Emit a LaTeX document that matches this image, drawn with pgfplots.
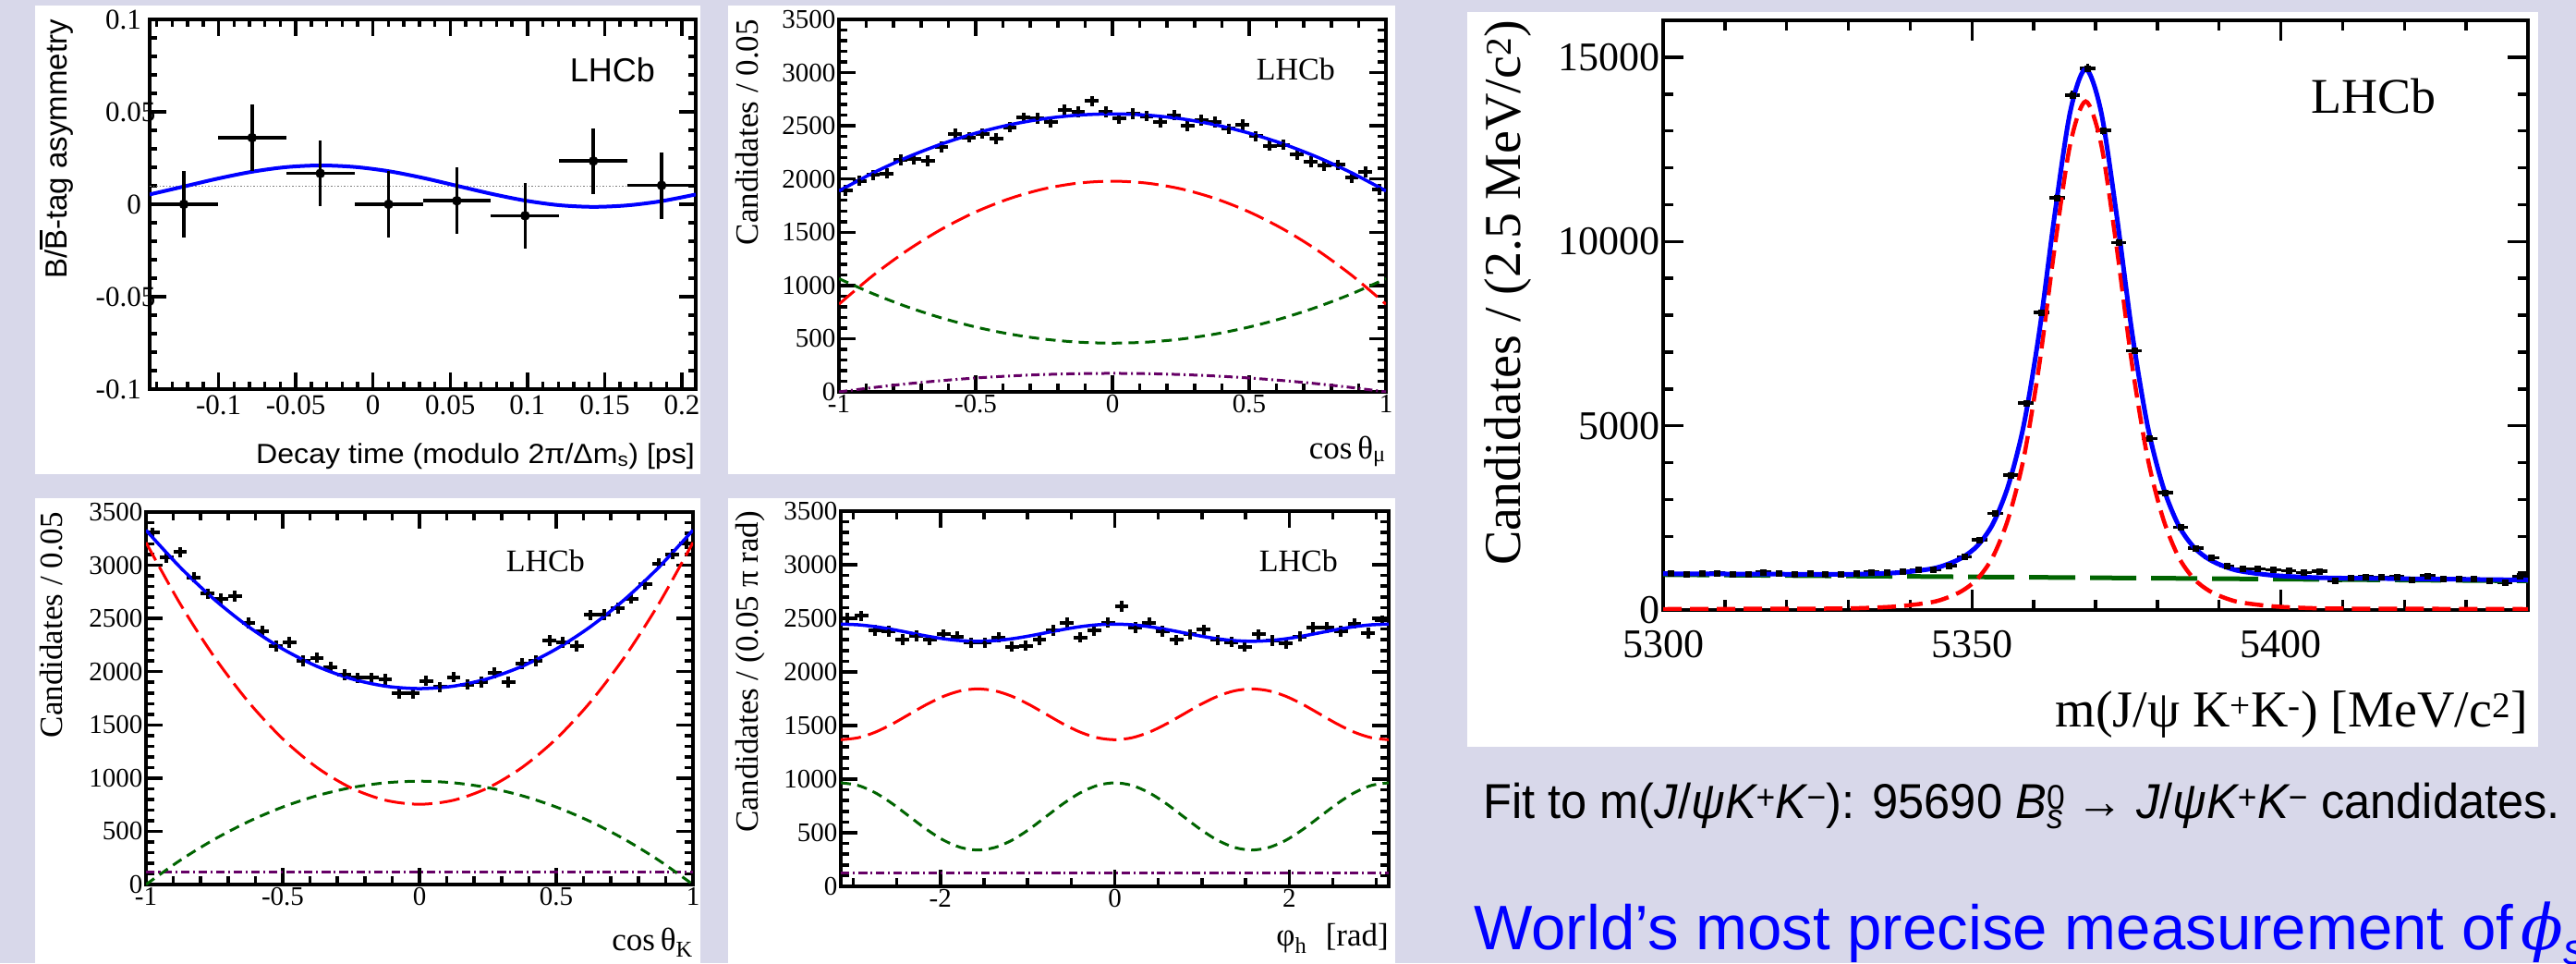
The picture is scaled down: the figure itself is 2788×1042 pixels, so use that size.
\documentclass[border=0pt]{standalone}
\usepackage{fontspec}
\setmainfont{Liberation Serif}
\newfontfamily\sans{Liberation Sans}
\newfontfamily\dvs{DejaVu Serif}
\newcommand{\mi}[1]{{\itshape #1}}
\usepackage{pgfplots}
\usepackage{pgfplotstable}
\pgfplotsset{compat=1.18}
\definecolor{bg}{RGB}{216,216,234}
\definecolor{rblue}{RGB}{0,0,255}
\definecolor{rred}{RGB}{255,0,0}
\definecolor{rgreen}{RGB}{0,100,0}
\definecolor{rpurple}{RGB}{102,0,102}

\pgfplotsset{rootstyle/.style={scale only axis, anchor=south west,
  axis line style={line width=3.5pt}, tick style={line width=3.5pt, black},
  tick align=inside, tick pos=both, clip=true, scaled ticks=false,
  enlargelimits=false, major tick length=18pt, minor tick length=9pt,
  tick label style={font=\fontsize{29}{29}\selectfont}}}
\tikzset{lblue/.style={rblue, line width=3.5pt, smooth, no markers},
  lred/.style={rred, line width=3pt, smooth, no markers, dash pattern=on 22pt off 8pt},
  lgreen/.style={rgreen, line width=3pt, smooth, no markers, dash pattern=on 11pt off 7pt},
  lpurple/.style={rpurple, line width=3pt, smooth, no markers, dash pattern=on 9pt off 4pt on 2pt off 4pt}}

% ---------- plot 1: asymmetry
\pgfplotstableread{
x y ex ey
-0.1225 0.0000 0.0221 0.0180
-0.0783 0.0360 0.0221 0.0178
-0.0341 0.0167 0.0221 0.0176
0.0101 0.0000 0.0221 0.0180
0.0543 0.0019 0.0221 0.0180
0.0985 -0.0062 0.0221 0.0177
0.1427 0.0234 0.0221 0.0177
0.1869 0.0102 0.0221 0.0180
}\dataA
\pgfplotstableread{
x y
-0.1446 0.0053
-0.1225 0.0096
-0.1004 0.0139
-0.0783 0.0176
-0.0562 0.0201
-0.0341 0.0210
-0.0120 0.0202
0.0101 0.0179
0.0322 0.0143
0.0543 0.0100
0.0764 0.0057
0.0985 0.0020
0.1206 -0.0005
0.1427 -0.0014
0.1648 -0.0006
0.1869 0.0017
0.2090 0.0053
}\curveA
% ---------- plot 2: cos theta_mu
\pgfplotstableread{
x y
-0.975 1893
-0.925 1983
-0.875 2037
-0.825 2052
-0.775 2178
-0.725 2187
-0.675 2172
-0.625 2301
-0.575 2421
-0.525 2391
-0.475 2427
-0.425 2379
-0.375 2487
-0.325 2577
-0.275 2571
-0.225 2532
-0.175 2651
-0.125 2630
-0.075 2732
-0.025 2630
0.025 2571
0.075 2612
0.125 2592
0.175 2532
0.225 2601
0.275 2502
0.325 2553
0.375 2538
0.425 2472
0.475 2511
0.525 2403
0.575 2313
0.625 2322
0.675 2232
0.725 2163
0.775 2127
0.825 2133
0.875 2013
0.925 2067
0.975 1902
}\dataB
\pgfplotstableread{
x blue red green purple
-1 1888 824 1064 0
-0.875 2057.7 1095 922 40.8
-0.75 2204.8 1329.8 798.9 76.1
-0.625 2329.2 1528.4 694.7 106
-0.5 2431 1691 609.5 130.5
-0.375 2510.2 1817.4 543.2 149.5
-0.25 2566.8 1908 495.9 163.1
-0.125 2600.7 1962 467.5 171.3
0 2612 1980 458 174
0.125 2600.7 1962 467.5 171.3
0.25 2566.8 1908 495.9 163.1
0.375 2510.2 1817.4 543.2 149.5
0.5 2431 1691 609.5 130.5
0.625 2329.2 1528.4 694.7 106
0.75 2204.8 1329.8 798.9 76.1
0.875 2057.7 1095 922 40.8
1 1888 824 1064 0
}\curveB
% ---------- plot 3: cos theta_K
\pgfplotstableread{
x y
-0.975 3306
-0.925 3074
-0.875 3123
-0.825 2886
-0.775 2732
-0.725 2683
-0.675 2712
-0.625 2459
-0.575 2378
-0.525 2239
-0.475 2277
-0.425 2103
-0.375 2132
-0.325 2045
-0.275 1972
-0.225 1943
-0.175 1943
-0.125 1929
-0.075 1798
-0.025 1798
0.025 1914
0.075 1856
0.125 1949
0.175 1879
0.225 1900
0.275 1987
0.325 1900
0.375 2074
0.425 2103
0.475 2291
0.525 2277
0.575 2242
0.625 2532
0.675 2538
0.725 2596
0.775 2688
0.825 2819
0.875 3016
0.925 3103
0.975 3205
}\dataC
\pgfplotstableread{
x blue red green purple
-1 3330 3214 0 116
-0.875 2981 2637.4 227.6 116
-0.75 2678.6 2137.8 424.8 116
-0.625 2422.6 1714.9 591.7 116
-0.5 2213.3 1369 728.3 116
-0.375 2050.4 1099.9 834.5 116
-0.25 1934.1 907.8 910.3 116
-0.125 1864.3 792.4 955.8 116
0 1841 754 971 116
0.125 1864.3 792.4 955.8 116
0.25 1934.1 907.8 910.3 116
0.375 2050.4 1099.9 834.5 116
0.5 2213.3 1369 728.3 116
0.625 2422.6 1714.9 591.7 116
0.75 2678.6 2137.8 424.8 116
0.875 2981 2637.4 227.6 116
1 3330 3214 0 116
}\curveC
% ---------- plot 4: phi_h
\pgfplotstableread{
x y
-3.0631 2503
-2.9060 2523
-2.7489 2388
-2.5918 2380
-2.4347 2302
-2.2777 2337
-2.1206 2299
-1.9635 2351
-1.8064 2331
-1.6493 2273
-1.4923 2273
-1.3352 2322
-1.1781 2236
-1.0210 2245
-0.8639 2302
-0.7069 2388
-0.5498 2460
-0.3927 2322
-0.2356 2388
-0.0785 2460
0.0785 2610
0.2356 2414
0.3927 2460
0.5498 2380
0.7069 2299
0.8639 2351
1.0210 2394
1.1781 2299
1.3352 2279
1.4923 2236
1.6493 2351
1.8064 2293
1.9635 2265
2.1206 2331
2.2777 2414
2.4347 2414
2.5918 2380
2.7489 2452
2.9060 2360
3.0631 2480
}\dataD
\pgfplotstableread{
x blue red green purple
-3.1416 2446 1368 966 124
-2.9452 2439.9 1386.0 942.1 124
-2.7489 2422.6 1437.4 874.2 124
-2.5525 2396.6 1514.3 772.5 124
-2.3562 2366 1605 652.5 124
-2.1598 2335.4 1695.7 532.5 124
-1.9635 2309.4 1772.6 430.8 124
-1.7671 2292.1 1824.0 362.9 124
-1.5708 2286 1842 339 124
-1.3744 2292.1 1824.0 362.9 124
-1.1781 2309.4 1772.6 430.8 124
-0.9817 2335.4 1695.7 532.5 124
-0.7854 2366 1605 652.5 124
-0.5890 2396.6 1514.3 772.5 124
-0.3927 2422.6 1437.4 874.2 124
-0.1963 2439.9 1386.0 942.1 124
0 2446 1368 966 124
0.1963 2439.9 1386.0 942.1 124
0.3927 2422.6 1437.4 874.2 124
0.5890 2396.6 1514.3 772.5 124
0.7854 2366 1605 652.5 124
0.9817 2335.4 1695.7 532.5 124
1.1781 2309.4 1772.6 430.8 124
1.3744 2292.1 1824.0 362.9 124
1.5708 2286 1842 339 124
1.7671 2292.1 1824.0 362.9 124
1.9635 2309.4 1772.6 430.8 124
2.1598 2335.4 1695.7 532.5 124
2.3562 2366 1605 652.5 124
2.5525 2396.6 1514.3 772.5 124
2.7489 2422.6 1437.4 874.2 124
2.9452 2439.9 1386.0 942.1 124
3.1416 2446 1368 966 124
}\curveD
% ---------- plot 5: mass
\pgfplotstableread{
x y ey
5301.25 995 32
5303.75 985 31
5306.25 990 31
5308.75 1010 32
5311.25 975 31
5313.75 985 31
5316.25 1030 32
5318.75 990 31
5321.25 985 31
5323.75 995 32
5326.25 980 31
5328.75 975 31
5331.25 990 31
5333.75 1025 32
5336.25 1020 32
5338.75 1045 32
5341.25 1090 33
5343.75 1110 33
5346.25 1200 35
5348.75 1440 38
5351.25 1900 44
5353.75 2620 51
5356.25 3660 60
5358.75 5620 75
5361.25 8080 90
5363.75 11190 106
5366.25 13970 118
5368.75 14690 121
5371.25 13010 114
5373.75 9970 100
5376.25 7040 84
5378.75 4650 68
5381.25 3180 56
5383.75 2240 47
5386.25 1680 41
5388.75 1420 38
5391.25 1190 34
5393.75 1120 33
5396.25 1115 33
5398.75 1095 33
5401.25 1065 33
5403.75 1020 32
5406.25 1050 32
5408.75 800 28
5411.25 870 29
5413.75 905 30
5416.25 890 30
5418.75 905 30
5421.25 820 29
5423.75 935 31
5426.25 855 29
5428.75 850 29
5431.25 840 29
5433.75 795 28
5436.25 740 27
5438.75 920 30
}\dataE
\pgfplotstableread{
x blue red
5300 985 25
5318.4 973 35
5328.4 966 40
5333.4 980 60
5338.4 1018 105
5343.4 1117 210
5345.9 1234 330
5348.4 1421 520
5350.9 1748 850
5353.4 2345 1450
5355.9 3392 2500
5358.4 5039 4150
5360.9 7556 6670
5363.4 10743 9860
5365.9 13520 12640
5368.4 14677 13800
5370.9 13514 12640
5373.4 10731 9860
5375.9 7538 6670
5378.4 5015 4150
5380.9 3362 2500
5383.4 2309 1450
5385.9 1706 850
5388.4 1373 520
5390.9 1180 330
5393.4 1057 210
5398.4 946 105
5403.4 895 60
5408.4 869 40
5418.4 851 35
5440 815 25
}\curveE

\begin{document}
\begin{tikzpicture}[x=1pt,y=1pt]
\useasboundingbox (0,0) rectangle (2788,-1042);
\clip (0,0) rectangle (2788,-1042);
\fill[bg] (0,0) rectangle (2788,-1042);
\fill[white] (38,-6) rectangle (758,-513);
\fill[white] (788,-6) rectangle (1510,-513);
\fill[white] (38,-539) rectangle (758,-1042);
\fill[white] (788,-539) rectangle (1510,-1042);
\fill[white] (1588,-13) rectangle (2747,-808);

% ===== plot 1
\begin{axis}[rootstyle, at={(162pt,-421pt)}, width=591pt, height=400pt,
  xmin=-0.1446, xmax=0.2090, ymin=-0.1, ymax=0.1,
  xtick={-0.1,-0.05,0,0.05,0.1,0.15,0.2}, xticklabels={-0.1,-0.05,0,0.05,0.1,0.15,0.2},
  minor xtick={-0.14,-0.13,...,0.20},
  ytick={-0.1,-0.05,0,0.05,0.1}, yticklabels={-0.1,{-0.0\rlap{5}},0,{0.0\rlap{5}},0.1},
  minor y tick num=4, major tick length=18pt, minor tick length=8pt,
  tick label style={font=\fontsize{31}{31}\selectfont},
  yticklabel style={inner sep=0pt, xshift=-9pt}, xticklabel style={yshift=-3pt}]
\addplot[gray, line width=1.5pt, dotted, no markers] coordinates {(-0.1446,0.0098) (0.2090,0.0098)};
\addplot[rblue, line width=4pt, smooth, no markers] table[x=x,y=y] {\curveA};
\addplot[black, only marks, mark=*, mark size=5pt,
  error bars/.cd, x dir=both, x explicit, y dir=both, y explicit, error mark=none,
  error bar style={line width=3.5pt, black}] table[x=x, y=y, x error=ex, y error=ey] {\dataA};
\end{axis}

% ===== plot 2
\begin{axis}[rootstyle, at={(908pt,-424pt)}, width=592pt, height=403pt,
  xmin=-1, xmax=1, ymin=0, ymax=3500,
  xtick={-1,-0.5,0,0.5,1}, xticklabels={-1,-0.5,0,0.5,1}, minor x tick num=4,
  ytick={0,500,1000,1500,2000,2500,3000,3500}, yticklabels={0,500,1000,1500,2000,2500,3000,3500},
  minor y tick num=4]
\addplot[black, only marks, mark=none,
  error bars/.cd, x dir=both, x fixed=0.025, y dir=both, y fixed=50, error mark=none,
  error bar style={line width=4pt, black}] table[x=x, y=y] {\dataB};
\addplot[lpurple] table[x=x,y=purple] {\curveB};
\addplot[lgreen] table[x=x,y=green] {\curveB};
\addplot[lred] table[x=x,y=red] {\curveB};
\addplot[lblue] table[x=x,y=blue] {\curveB};
\end{axis}

% ===== plot 3
\begin{axis}[rootstyle, at={(158pt,-957pt)}, width=592pt, height=403pt,
  xmin=-1, xmax=1, ymin=0, ymax=3500,
  xtick={-1,-0.5,0,0.5,1}, xticklabels={-1,-0.5,0,0.5,1}, minor x tick num=4,
  ytick={0,500,1000,1500,2000,2500,3000,3500}, yticklabels={0,500,1000,1500,2000,2500,3000,3500},
  minor y tick num=4]
\addplot[black, only marks, mark=none,
  error bars/.cd, x dir=both, x fixed=0.025, y dir=both, y fixed=50, error mark=none,
  error bar style={line width=4pt, black}] table[x=x, y=y] {\dataC};
\addplot[lpurple] table[x=x,y=purple] {\curveC};
\addplot[lgreen] table[x=x,y=green] {\curveC};
\addplot[lred] table[x=x,y=red] {\curveC};
\addplot[lblue] table[x=x,y=blue] {\curveC};
\end{axis}

% ===== plot 4
\begin{axis}[rootstyle, at={(910pt,-959pt)}, width=593pt, height=406pt,
  xmin=-3.1416, xmax=3.1416, ymin=0, ymax=3500,
  xtick={-2,0,2}, xticklabels={-2,0,2}, minor xtick={-3,-2.5,...,3},
  ytick={0,500,1000,1500,2000,2500,3000,3500}, yticklabels={0,500,1000,1500,2000,2500,3000,3500},
  minor y tick num=4]
\addplot[black, only marks, mark=none,
  error bars/.cd, x dir=both, x fixed=0.0785, y dir=both, y fixed=50, error mark=none,
  error bar style={line width=4pt, black}] table[x=x, y=y] {\dataD};
\addplot[lpurple] table[x=x,y=purple] {\curveD};
\addplot[lgreen] table[x=x,y=green] {\curveD};
\addplot[lred] table[x=x,y=red] {\curveD};
\addplot[lblue] table[x=x,y=blue] {\curveD};
\end{axis}

% ===== plot 5
\begin{axis}[rootstyle, at={(1800pt,-660pt)}, width=936pt, height=638pt,
  xmin=5300, xmax=5440, ymin=0, ymax=16000,
  xtick={5300,5350,5400}, xticklabels={5300,5350,5400}, minor xtick={5310,5320,...,5440},
  ytick={0,5000,10000,15000}, yticklabels={0,5000,10000,15000},
  minor ytick={1000,2000,...,16000},
  major tick length=22pt, minor tick length=11pt,
  tick label style={font=\fontsize{44}{44}\selectfont},
  xticklabel style={yshift=-19pt}]
\addplot[black, only marks, mark=square*, mark size=3pt,
  error bars/.cd, x dir=both, x fixed=1.25, y dir=both, y explicit, error mark=none,
  error bar style={line width=3.5pt, black}] table[x=x, y=y, y error=ey] {\dataE};
\addplot[rgreen, line width=5pt, no markers, dash pattern=on 50pt off 16pt] coordinates {(5300,960) (5440,790)};
\addplot[rred, line width=4.5pt, smooth, no markers, dash pattern=on 20pt off 9pt] table[x=x,y=red] {\curveE};
\addplot[rblue, line width=5pt, smooth, no markers] table[x=x,y=blue] {\curveE};
\end{axis}

% ===== labels
\node[rotate=90, anchor=base east, inner sep=0, font=\sans\fontsize{33}{33}\selectfont] at (72pt,-21pt) {B/\makebox[0pt][l]{\hspace{0.03em}\rule[0.80em]{0.62em}{0.07em}}B-tag asymmetry};
\node[anchor=base east, inner sep=0, xscale=1.07, font=\sans\fontsize{30}{30}\selectfont] at (752pt,-501pt) {Decay time (modulo 2π/Δm\textsubscript{s}) [ps]};
\node[anchor=base east, inner sep=0, font=\sans\fontsize{36}{36}\selectfont] at (709pt,-88pt) {LHCb};

\node[rotate=90, anchor=base east, inner sep=0, font=\fontsize{35}{35}\selectfont] at (820pt,-21pt) {Candidates / 0.05};
\node[anchor=base east, inner sep=0, font=\fontsize{35}{35}\selectfont] at (1500pt,-496pt) {cos\,θ\textsubscript{μ}};
\node[anchor=base east, inner sep=0, font=\fontsize{34}{34}\selectfont] at (1445pt,-86pt) {LHCb};

\node[rotate=90, anchor=base east, inner sep=0, font=\fontsize{35}{35}\selectfont] at (67pt,-554pt) {Candidates / 0.05};
\node[anchor=base east, inner sep=0, font=\fontsize{35}{35}\selectfont] at (750pt,-1028pt) {cos\,θ\textsubscript{K}};
\node[anchor=base east, inner sep=0, font=\fontsize{34}{34}\selectfont] at (633pt,-618pt) {LHCb};

\node[rotate=90, anchor=base east, inner sep=0, font=\fontsize{35}{35}\selectfont] at (820pt,-553pt) {Candidates / (0.05 π rad)};
\node[anchor=base east, inner sep=0, font=\fontsize{35}{35}\selectfont] at (1503pt,-1023pt) {φ\textsubscript{h}\,\, [rad]};
\node[anchor=base east, inner sep=0, font=\fontsize{34}{34}\selectfont] at (1448pt,-618pt) {LHCb};

\node[rotate=90, anchor=base east, inner sep=0, font=\fontsize{56}{56}\selectfont] at (1645pt,-22pt) {Candidates / (2.5 MeV/c\textsuperscript{2})};
\node[anchor=base east, inner sep=0, font=\fontsize{56}{56}\selectfont] at (2736pt,-786pt) {m(J/ψ K\textsuperscript{+}K\textsuperscript{-}) [MeV/c\textsuperscript{2}]};
\node[anchor=base east, inner sep=0, font=\fontsize{54}{54}\selectfont] at (2637pt,-122pt) {LHCb};

\node[anchor=base west, inner sep=0, xscale=0.955, font=\sans\fontsize{53}{60}\selectfont] at (1605pt,-885pt) {Fit to m(\mi{J}/\mi{ψK}\textsuperscript{+}\mi{K}\textsuperscript{−}): 95690 \mi{B}\makebox[0pt][l]{\textsuperscript{0}}\textsubscript{\mi{s}} → \mi{J}/\mi{ψK}\textsuperscript{+}\mi{K}\textsuperscript{−} candidates.};
\node[anchor=base west, inner sep=0, xscale=0.988, text=rblue, font=\sans\fontsize{68}{76}\selectfont] at (1595pt,-1027pt) {World’s most precise measurement of\hspace{-0.15em} {\dvs\itshape ϕ}\textsubscript{\mi{s}}};
\end{tikzpicture}
\end{document}
